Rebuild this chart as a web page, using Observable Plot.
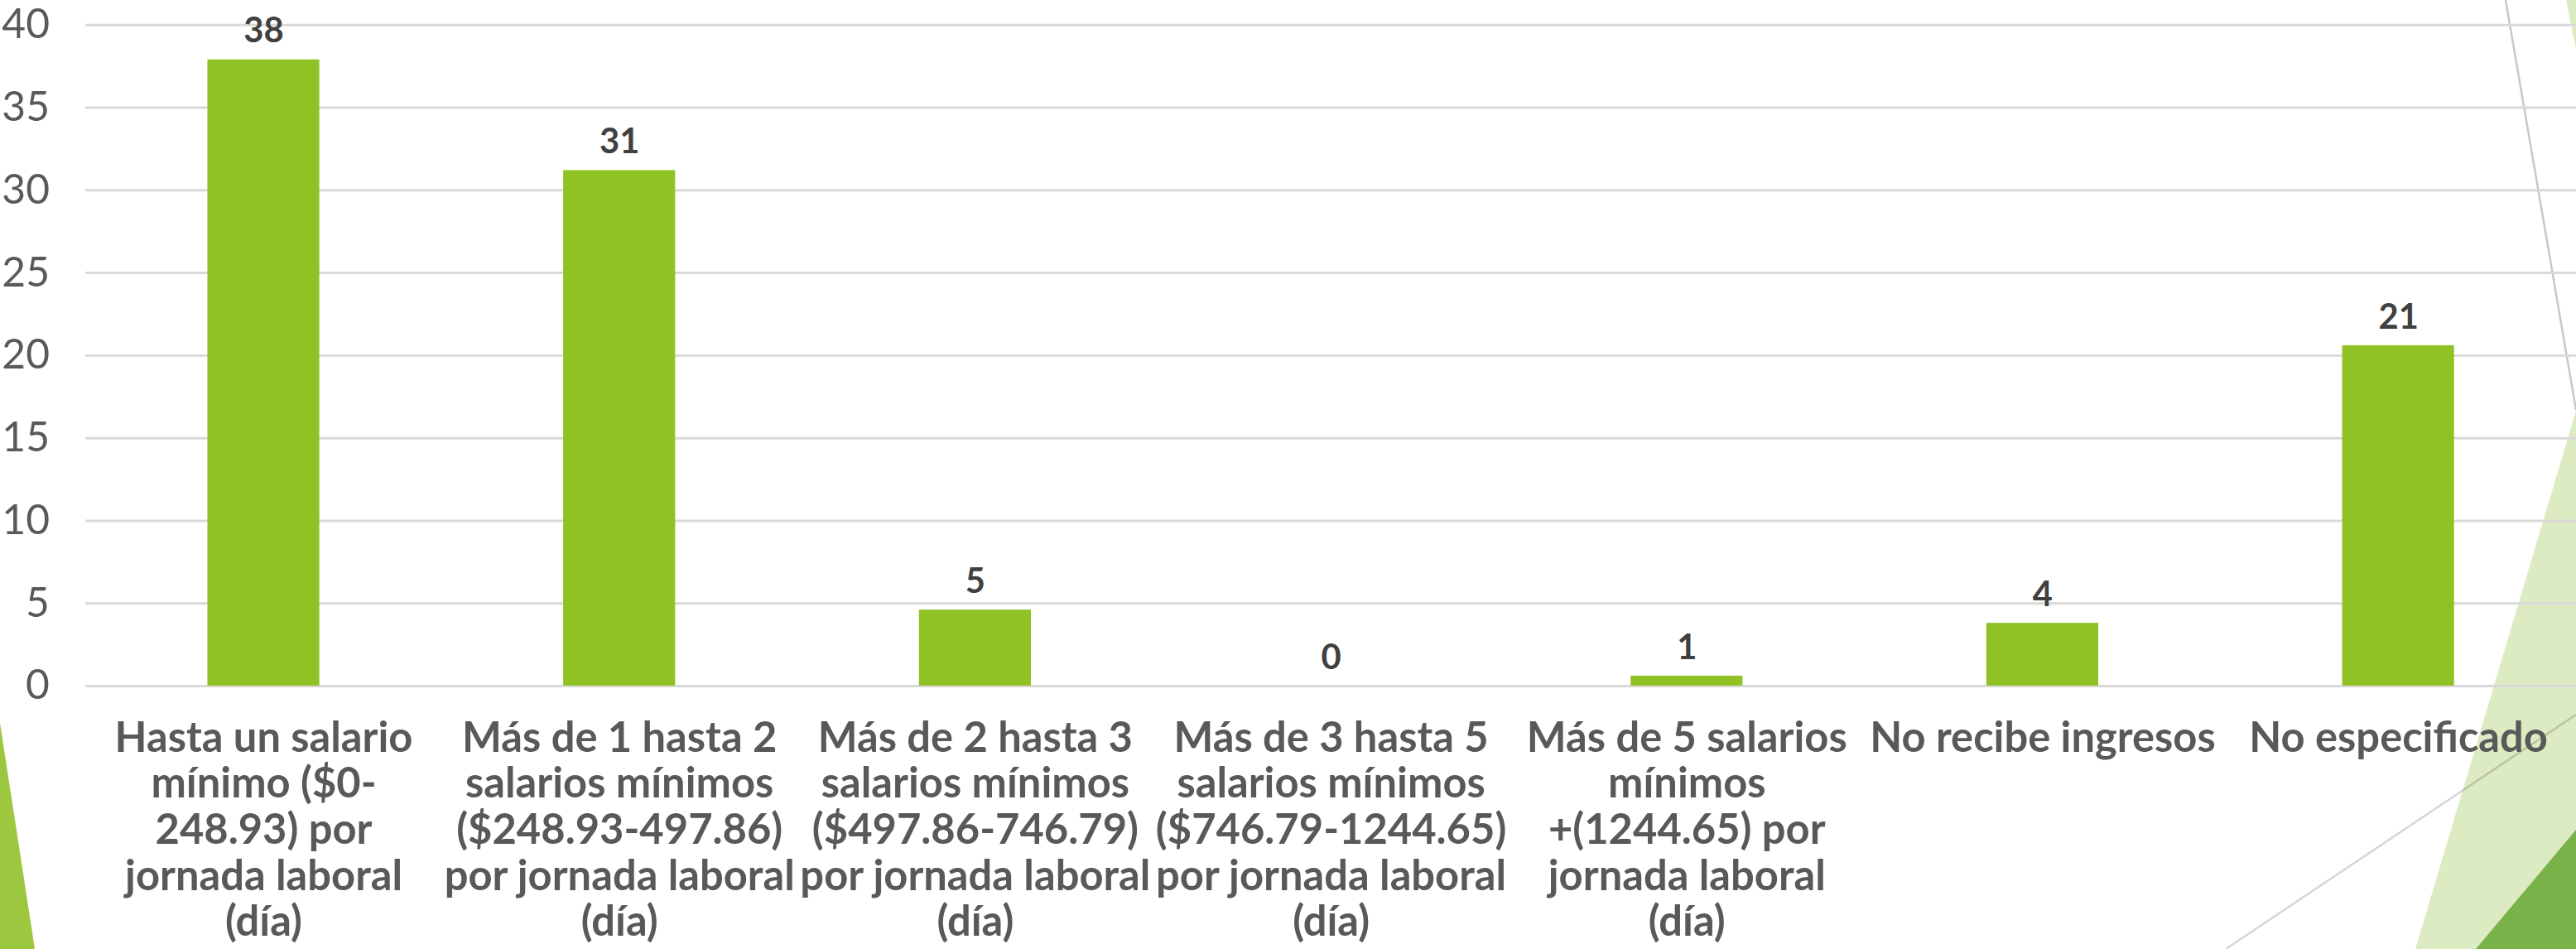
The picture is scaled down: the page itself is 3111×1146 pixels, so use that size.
<!DOCTYPE html>
<html>
<head>
<meta charset="utf-8">
<script src="https://cdn.jsdelivr.net/npm/d3@7"></script>
<script src="https://cdn.jsdelivr.net/npm/@observablehq/plot@0.6"></script>
<style>
  html, body { margin: 0; padding: 0; background: #ffffff; width: 3111px; height: 1146px; overflow: hidden; }
  #bg { position: absolute; left: 0; top: 0; }
  #chart { position: absolute; left: 0; top: 0; }
</style>
</head>
<body>
<svg id="bg" width="3111" height="1146" xmlns="http://www.w3.org/2000/svg">
  <polygon points="0,873 42,1146 0,1146" fill="#9CC73F"/>
  <polygon points="3099,0 3111,0 3111,60" fill="#DDEBC2"/>
  <polygon points="3111,496 3111,1146 2917,1146" fill="#DDEBC2"/>
  <polygon points="3111,1002 3111,1146 2990,1146" fill="#7AB24A"/>
  <line x1="3026" y1="0" x2="3111" y2="495" stroke="#C8C8C8" stroke-width="2.5"/>
  <line x1="3111" y1="863" x2="2688" y2="1146" stroke="#000" stroke-opacity="0.16" stroke-width="2.5"/>
</svg>
<div id="chart"></div>
<script>
const categories = [
  "Hasta un salario\nmínimo ($0-\n248.93) por\njornada laboral\n(día)",
  "Más de 1 hasta 2\nsalarios mínimos\n($248.93-497.86)\npor jornada laboral\n(día)",
  "Más de 2 hasta 3\nsalarios mínimos\n($497.86-746.79)\npor jornada laboral\n(día)",
  "Más de 3 hasta 5\nsalarios mínimos\n($746.79-1244.65)\npor jornada laboral\n(día)",
  "Más de 5 salarios\nmínimos\n+(1244.65) por\njornada laboral\n(día)",
  "No recibe ingresos",
  "No especificado"
];
const values = [37.9, 31.2, 4.6, 0, 0.6, 3.8, 20.6];
const valueLabels = ["38", "31", "5", "0", "1", "4", "21"];
const yTicks = [0, 5, 10, 15, 20, 25, 30, 35, 40];

const data = categories.map((c, i) => ({category: c, value: values[i], label: valueLabels[i]}));

const chart = Plot.plot({
  width: 3130,
  height: 1146,
  marginLeft: 103.8,
  marginRight: 0,
  marginTop: 30,
  marginBottom: 313,
  style: {background: "transparent", fontFamily: "Lato, sans-serif", overflow: "visible"},
  x: {domain: categories, paddingInner: 0.6854, paddingOuter: 0.3427, round: false, label: null},
  y: {domain: [0, 40], label: null},
  marks: [
    Plot.gridY(yTicks, {stroke: "#D9D9D9", strokeOpacity: 1, strokeWidth: 3}),
    Plot.barY(data, {x: "category", y: "value", fill: "#90C226"}),
    Plot.text(data, {
      x: "category", y: "value", text: "label", dy: -21, lineAnchor: "bottom",
      fill: "#404040", fontWeight: "bold", fontSize: 42
    }),
    Plot.axisY(yTicks, {
      tickSize: 0, tickPadding: 44, fontSize: 50, color: "#595959", label: null,
      tickFormat: d => String(d)
    }),
    Plot.axisX({
      tickSize: 0, tickPadding: 40, fontSize: 51, fontWeight: "bold", color: "#595959",
      lineHeight: 1.098, label: null, tickFormat: d => d
    })
  ]
});
document.getElementById("chart").appendChild(chart);
</script>
</body>
</html>
